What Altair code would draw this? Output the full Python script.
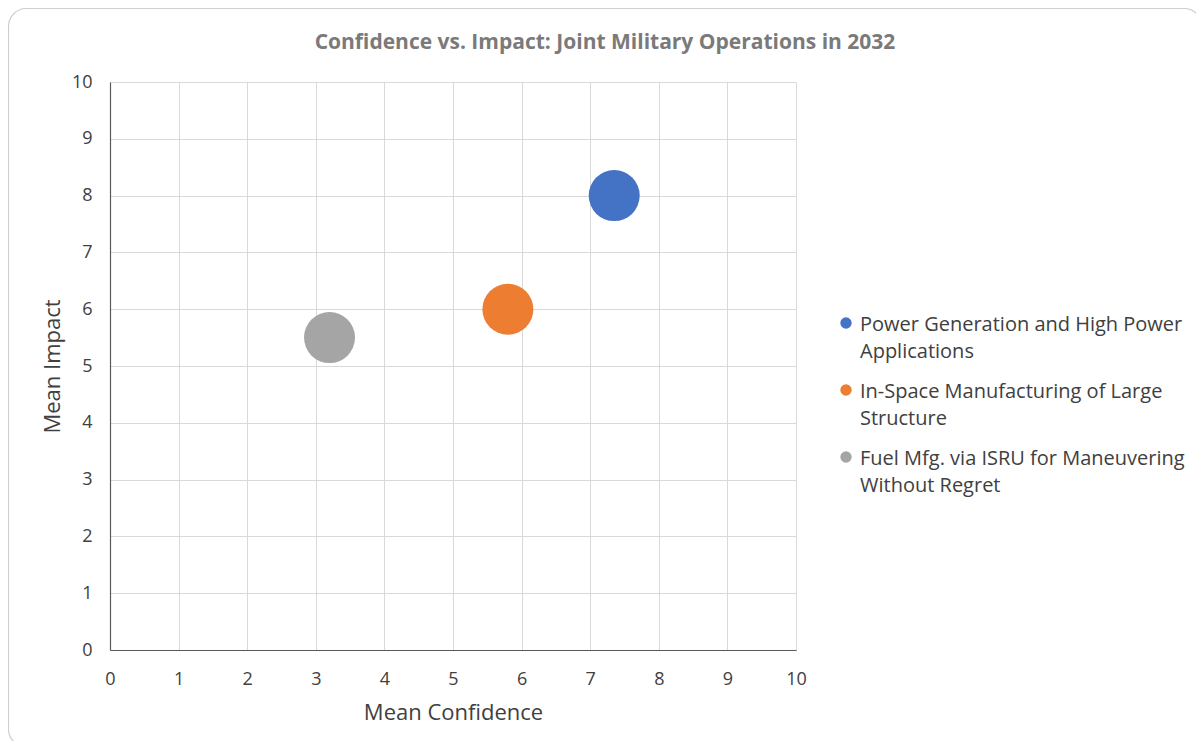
import altair as alt
import pandas as pd

series = [
    "Power Generation and High Power|Applications",
    "In-Space Manufacturing of Large|Structure",
    "Fuel Mfg. via ISRU for Maneuvering|Without Regret",
]
confidence = [7.35, 5.8, 3.2]
impact = [8.0, 6.0, 5.5]
colors = ["#4472C4", "#ED7D31", "#A5A5A5"]
x_ticks = list(range(0, 11))
y_ticks = list(range(0, 11))

df = pd.DataFrame({"series": series, "confidence": confidence, "impact": impact})

W, H = 686, 568
PL, PT, PR, PB = 102, 74, 400, 91
FONT = "Open Sans"
LABEL_DY = -8

points = alt.Chart(df).mark_circle(size=2600, opacity=1).encode(
    x=alt.X("confidence:Q", title="Mean Confidence",
            scale=alt.Scale(domain=[0, 10], nice=False),
            axis=alt.Axis(values=x_ticks, format="d")),
    y=alt.Y("impact:Q", title="Mean Impact",
            scale=alt.Scale(domain=[0, 10], nice=False),
            axis=alt.Axis(values=y_ticks, format="d")),
    color=alt.Color("series:N", scale=alt.Scale(domain=series, range=colors),
                    sort=series,
                    legend=alt.Legend(title=None, orient="none", legendX=726, legendY=231,
                                      symbolType="circle", symbolSize=130,
                                      labelFont=FONT, labelFontSize=20, labelColor="#404040",
                                      labelLimit=500, labelExpr="split(datum.label, '|')",
                                      labelBaseline="top", labelOffset=4,
                                      rowPadding=18)),
)

frame = alt.Chart(alt.Data(values=[{}])).mark_rect(
    fill=None, stroke="#cfcfcf", strokeWidth=1.2, cornerRadius=18
).encode(
    x=alt.value(-PL + 0.5), y=alt.value(-PT + 0.5),
    x2=alt.value(W + PR + 6), y2=alt.value(H + PB + 6),
)

chart = alt.layer(frame, points).properties(
    width=W, height=H,
    padding={"left": PL, "top": PT, "right": PR, "bottom": PB},
    autosize=alt.AutoSizeParams(type="none"),
    title=alt.Title("Confidence vs. Impact: Joint Military Operations in 2032",
                    font=FONT, fontSize=21, fontWeight="bold", color="#7a7a7a",
                    anchor="middle", dx=152, offset=-45),
).configure_view(stroke=None).configure_axis(
    grid=True, gridColor="#d9d9d9", gridWidth=1,
    domain=False, ticks=False, labelFlush=False,
    labelFont=FONT, labelFontSize=18, labelColor="#404040",
    titleFont=FONT, titleFontSize=22, titleFontWeight="normal", titleColor="#404040",
).configure_axisX(
    labelPadding=20 - LABEL_DY, titlePadding=14, domain=True, domainColor="#595959", domainWidth=1.2,
).configure_axisY(
    labelPadding=18, labelOffset=-LABEL_DY, titlePadding=7, domain=True, domainColor="#595959", domainWidth=1.2,
)
chart.config.style = {"guide-label": {"lineHeight": 27, "dy": LABEL_DY}}

chart.save("out.html", embed_options={"renderer": "svg", "actions": False})
